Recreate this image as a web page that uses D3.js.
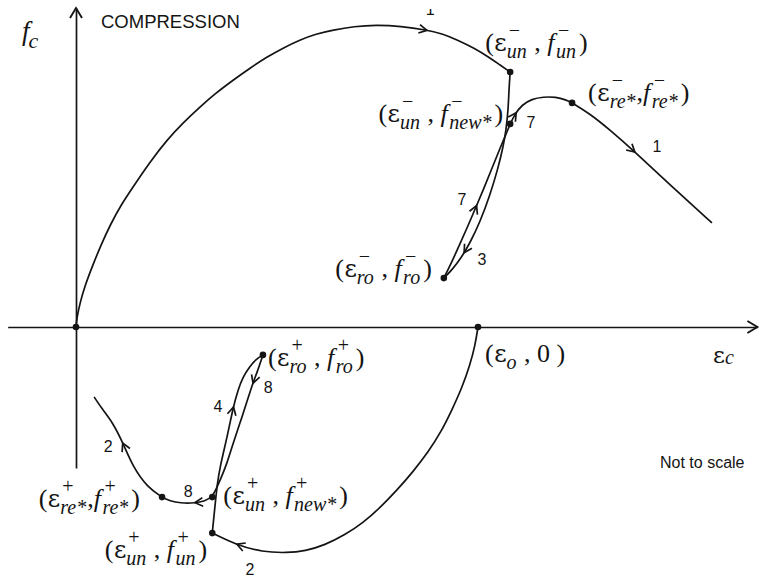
<!DOCTYPE html>
<html>
<head>
<meta charset="utf-8">
<script src="https://cdn.jsdelivr.net/npm/d3@7"></script>
<style>
  html, body { margin: 0; padding: 0; background: #fff; }
  svg { display: block; }
  text { fill: #141414; }
  .serif { font-family: "Liberation Serif", "Times New Roman", serif; }
  .sans { font-family: "Liberation Sans", Arial, sans-serif; }
  .greek { font-family: "DejaVu Serif", "Liberation Serif", serif; }
</style>
</head>
<body>
<svg id="chart" width="760" height="577"></svg>
<script>
// Cyclic stress-strain model of concrete (schematic).
// Strain is normalised so that eps_o = 100; stress in arbitrary units (compression positive).

// Monotonic compression envelope, branch 1 up to the unloading point
const envelope = [
  [0, 0], [0.2, 3.0], [1.0, 8.0], [2.2, 13.7], [4.2, 20.7], [6.2, 27.3], [8.5, 34.0],
  [11.2, 40.7], [14.2, 46.7], [18.4, 55.0], [22.6, 62.3], [26.6, 68.0], [30.8, 73.3],
  [34.8, 78.0], [39.1, 82.3], [43.3, 86.3], [47.5, 90.0], [51.5, 93.0], [55.7, 95.7],
  [59.7, 97.7], [63.9, 99.0], [69.2, 100.2], [74.6, 100.7], [80.8, 100.3], [87.3, 99.0],
  [91.3, 97.7], [94.8, 95.7], [99.0, 93.0], [103.0, 89.7], [105.5, 87.3], [108.0, 85.0]
];
// Branch 3: unloading in compression from (eps_un-, f_un-) to (eps_ro-, f_ro-)
const branch3 = [
  [108.0, 85.0], [107.7, 79.0], [107.5, 72.3], [107.0, 65.7], [106.2, 59.7], [105.0, 53.0],
  [103.0, 44.0], [100.5, 35.0], [98.0, 28.0], [95.8, 23.0], [93.5, 19.0], [91.5, 16.3]
];
// Branch 7: reloading from (eps_ro-, f_ro-) through (eps_un-, f_new*-) to (eps_re*-, f_re*-)
const branch7 = [
  [91.5, 16.3], [93.5, 21.7], [95.5, 27.7], [97.5, 33.7], [99.5, 40.0], [101.5, 46.3],
  [103.5, 53.0], [105.5, 59.7], [107.0, 64.3], [108.0, 67.7], [109.2, 71.0], [110.9, 74.0],
  [113.4, 76.0], [116.2, 76.7], [119.4, 76.7], [121.9, 75.7], [123.4, 74.7]
];
// Branch 1 continued: softening beyond (eps_re*-, f_re*-)
const branch1Tail = [
  [123.4, 74.7], [127.9, 71.0], [132.8, 65.7], [139.1, 58.3], [147.8, 47.3], [158.2, 34.7]
];
// Branch 2: tension side from (eps_o, 0) down to (eps_un+, f_un+)
const branch2Tension = [
  [100.0, 0], [99.3, -6.0], [98.0, -12.7], [96.0, -20.3], [93.5, -27.7], [90.8, -35.0],
  [87.6, -41.7], [83.8, -48.3], [79.9, -54.3], [75.6, -60.3], [71.4, -65.3], [66.9, -69.3],
  [61.9, -72.7], [57.0, -74.7], [52.5, -75.3], [46.3, -75.0], [40.0, -72.7], [33.9, -68.7]
];
// Branch 4: unloading in tension from (eps_un+, f_un+) to (eps_ro+, f_ro+)
const branch4 = [
  [33.9, -68.7], [34.6, -59.3], [35.1, -52.7], [35.8, -46.7], [37.6, -36.7], [39.1, -26.7],
  [40.3, -21.0], [41.5, -16.7], [43.3, -13.0], [44.8, -10.7], [46.5, -9.3]
];
// Branch 8: reloading from (eps_ro+, f_ro+) through (eps_un+, f_new*+) to (eps_re*+, f_re*+)
const branch8 = [
  [46.5, -9.3], [45.0, -15.3], [44.0, -18.7], [42.5, -25.0], [40.8, -32.0], [39.1, -38.7],
  [37.6, -45.3], [36.1, -50.3], [35.1, -53.3], [33.9, -56.7], [32.1, -58.0], [29.6, -58.7],
  [25.9, -58.7], [23.4, -58.0], [21.4, -56.7]
];
// Branch 2 continued beyond (eps_re*+, f_re*+)
const branch2Tail = [
  [21.4, -56.7], [17.7, -53.3], [14.2, -46.7], [11.7, -38.7], [9.2, -32.0], [6.7, -27.7], [4.5, -23.3]
];

// Marked state points
const statePoints = [
  { id: "origin", eps: 0, f: 0 },
  { id: "eo", eps: 100, f: 0 },
  { id: "unC", eps: 108.0, f: 85.0 },
  { id: "newC", eps: 108.0, f: 67.7 },
  { id: "reC", eps: 123.4, f: 74.7 },
  { id: "roC", eps: 91.5, f: 16.3 },
  { id: "roT", eps: 46.5, f: -9.3 },
  { id: "newT", eps: 33.9, f: -56.7 },
  { id: "reT", eps: 21.4, f: -56.7 },
  { id: "unT", eps: 33.9, f: -68.7 }
];

// Direction arrows: branch and the location along it
const arrowMarks = [
  { branch: "envelope", eps: 87.3, f: 99.0 },
  { branch: "branch1Tail", eps: 139.1, f: 58.3 },
  { branch: "branch7", eps: 109.2, f: 71.7 },
  { branch: "branch7", eps: 99.3, f: 40.7 },
  { branch: "branch3", eps: 96.3, f: 25.0 },
  { branch: "branch4", eps: 39.1, f: -26.7 },
  { branch: "branch8", eps: 44.0, f: -18.7 },
  { branch: "branch8", eps: 29.6, f: -58.7 },
  { branch: "branch2Tail", eps: 11.7, f: -38.7 },
  { branch: "branch2Tension", eps: 40.0, f: -72.7 }
];

// Branch numbers
const branchNumbers = [
  { text: "1", eps: 88.1, f: 104.0, clipped: true },
  { text: "1", eps: 144.5, f: 58.3 },
  { text: "7", eps: 113.2, f: 66.3 },
  { text: "7", eps: 96.0, f: 40.7 },
  { text: "3", eps: 101.0, f: 20.7 },
  { text: "4", eps: 35.3, f: -28.3 },
  { text: "8", eps: 47.8, f: -22.0 },
  { text: "8", eps: 27.9, f: -56.7 },
  { text: "2", eps: 8.0, f: -41.7 },
  { text: "2", eps: 43.3, f: -82.7 }
];

const branches = { envelope, branch3, branch7, branch1Tail, branch2Tension, branch4, branch8, branch2Tail };

const svg = d3.select("#chart");
const ink = "#141414";

const x = d3.scaleLinear().domain([0, 100]).range([76, 478]);
const y = d3.scaleLinear().domain([0, 100]).range([327, 27]);

// ---- axes (no ticks, arrow-headed) ----
const xAxisScale = d3.scaleLinear().domain([-17, 169.5]).range([x(-17), x(169.5)]);
const yAxisScale = d3.scaleLinear().domain([-47, 106.3]).range([y(-47), y(106.3)]);

const gx = svg.append("g").attr("transform", `translate(0,${y(0)})`)
  .call(d3.axisBottom(xAxisScale).tickValues([]).tickSizeOuter(0));
const gy = svg.append("g").attr("transform", `translate(${x(0)},0)`)
  .call(d3.axisLeft(yAxisScale).tickValues([]).tickSizeOuter(0));
[gx, gy].forEach(g => g.select(".domain").attr("stroke", ink).attr("stroke-width", 1.7));

const axisHeads = svg.append("g").attr("fill", "none").attr("stroke", ink)
  .attr("stroke-width", 1.9).attr("stroke-linejoin", "miter");
const xt = xAxisScale.range()[1], yt = yAxisScale.range()[1];
axisHeads.append("path").attr("d", `M${xt - 10},${y(0) - 6}L${xt},${y(0)}L${xt - 10},${y(0) + 6}`);
axisHeads.append("path").attr("d", `M${x(0) - 6},${yt + 10}L${x(0)},${yt}L${x(0) + 6},${yt + 10}`);

// ---- branches ----
const line = d3.line().x(d => x(d[0])).y(d => y(d[1])).curve(d3.curveBasis);
const curveG = svg.append("g").attr("fill", "none").attr("stroke", ink).attr("stroke-width", 1.7);
const pathNodes = {};
Object.entries(branches).forEach(([name, pts]) => {
  pathNodes[name] = curveG.append("path").attr("d", line(pts)).node();
});

// ---- direction arrows ----
const arrowG = svg.append("g").attr("fill", "none").attr("stroke", ink).attr("stroke-width", 1.7);
arrowMarks.forEach(a => {
  const node = pathNodes[a.branch];
  const L = node.getTotalLength();
  const tx = x(a.eps), ty = y(a.f);
  let best = 0, bd = Infinity;
  for (let l = 0; l <= L; l += 0.5) {
    const p = node.getPointAtLength(l);
    const d = (p.x - tx) ** 2 + (p.y - ty) ** 2;
    if (d < bd) { bd = d; best = l; }
  }
  const p = node.getPointAtLength(best);
  const p0 = node.getPointAtLength(Math.max(0, best - 2));
  const p1 = node.getPointAtLength(Math.min(L, best + 2));
  const ang = Math.atan2(p1.y - p0.y, p1.x - p0.x);
  const len = 9, spread = 0.5;
  const w1 = [p.x - len * Math.cos(ang - spread), p.y - len * Math.sin(ang - spread)];
  const w2 = [p.x - len * Math.cos(ang + spread), p.y - len * Math.sin(ang + spread)];
  arrowG.append("path").attr("d", `M${w1[0]},${w1[1]}L${p.x},${p.y}L${w2[0]},${w2[1]}`);
});

// ---- state points ----
svg.append("g").selectAll("circle").data(statePoints).join("circle")
  .attr("cx", d => x(d.eps)).attr("cy", d => y(d.f)).attr("r", 3.3).attr("fill", ink);

// ---- branch numbers ----
svg.append("defs").append("clipPath").attr("id", "topClip")
  .append("rect").attr("x", 0).attr("y", 9).attr("width", 760).attr("height", 568);
svg.append("g").attr("class", "sans").selectAll("text").data(branchNumbers).join("text")
  .attr("x", d => x(d.eps)).attr("y", d => y(d.f))
  .attr("text-anchor", "middle").attr("font-size", 16)
  .attr("clip-path", d => d.clipped ? "url(#topClip)" : null)
  .text(d => d.text);

// ---- math labels ----
function mathLabel(x0, y0, parts, opt) {
  const size = opt.size || 26, subSize = opt.subSize || 20;
  const g = svg.append("g").attr("class", "serif");
  let cx = 0;
  parts.forEach(p => {
    if (p.t !== undefined) {
      const t = g.append("text").attr("x", cx).attr("y", 0)
        .attr("class", p.greek ? "greek" : null)
        .attr("font-size", p.size || size)
        .attr("font-style", p.i ? "italic" : "normal")
        .attr("xml:space", "preserve").style("white-space", "pre").text(p.t);
      cx += t.node().getComputedTextLength() + (p.gap || 0);
    } else {
      let w = 0;
      const sx = cx + (p.dx || 0);
      if (p.sup) {
        const t = g.append("text").attr("x", sx + (p.supDx || 0)).attr("y", -size * 0.55)
          .attr("font-size", subSize).text(p.sup);
        w = Math.max(w, t.node().getComputedTextLength() + (p.supDx || 0));
      }
      if (p.sub) {
        const t = g.append("text").attr("x", sx).attr("y", size * (opt.subDrop ?? 0.26))
          .attr("font-size", subSize).attr("font-style", "italic").text(p.sub);
        w = Math.max(w, t.node().getComputedTextLength());
      }
      cx += w + (p.dx || 0) + (p.gap || 0);
    }
  });
  const x1 = opt.align === "end" ? x0 - cx : x0;
  g.attr("transform", `translate(${x1},${y0})`);
  return g;
}

const minus = "\u2212";
function pairParts(sign, epsSub, fSub, sep) {
  return [
    { t: "(", gap: 0.5 }, { t: "\u03b5", greek: true, size: 24 }, { sup: sign, sub: epsSub, supDx: 2, gap: 1 },
    { t: sep }, { t: "f", i: true, gap: 1.5 }, { sup: sign, sub: fSub, supDx: 2, gap: 3 },
    { t: ")" }
  ];
}
function anchor(id) { const p = statePoints.find(s => s.id === id); return [x(p.eps), y(p.f)]; }

const pairLabels = [
  { at: "unC", dx: -25, dy: -21, sign: minus, e: "un", f: "un", sep: " , " },
  { at: "reC", dx: 16, dy: -2, sign: minus, e: "re*", f: "re*", sep: "," },
  { at: "newC", dx: -7, dy: -2, sign: minus, e: "un", f: "new*", sep: " , ", align: "end" },
  { at: "roC", dx: -12, dy: -1, sign: minus, e: "ro", f: "ro", sep: " , ", align: "end" },
  { at: "roT", dx: 5, dy: 11, sign: "+", e: "ro", f: "ro", sep: " , " },
  { at: "newT", dx: 11, dy: 7, sign: "+", e: "un", f: "new*", sep: " , " },
  { at: "reT", dx: -22, dy: 10, sign: "+", e: "re*", f: "re*", sep: ",", align: "end" },
  { at: "unT", dx: -5, dy: 25, sign: "+", e: "un", f: "un", sep: " , ", align: "end" }
];
pairLabels.forEach(L => {
  const [ax, ay] = anchor(L.at);
  mathLabel(ax + L.dx, ay + L.dy, pairParts(L.sign, L.e, L.f, L.sep), { align: L.align });
});

// (eps_o, 0)
{
  const [ax, ay] = anchor("eo");
  mathLabel(ax + 7, ay + 35, [{ t: "(", gap: 0.5 }, { t: "\u03b5", greek: true, size: 24 }, { sub: "o", gap: 1 }, { t: " , 0 )" }], {});
}
// axis titles
mathLabel(22, 40, [{ t: "f", i: true, size: 27 }, { sub: "c", dx: -1 }], { size: 27, subSize: 22, subDrop: 0.3 });
mathLabel(713, 363, [{ t: "\u03b5", greek: true, size: 23 }, { sub: "c" }], { size: 24, subSize: 20, subDrop: 0.05 });

svg.append("text").attr("class", "sans").attr("x", 101).attr("y", 28)
  .attr("font-size", 18.5).text("COMPRESSION");
svg.append("text").attr("class", "sans").attr("x", 660).attr("y", 468)
  .attr("font-size", 16).text("Not to scale");
</script>
</body>
</html>
